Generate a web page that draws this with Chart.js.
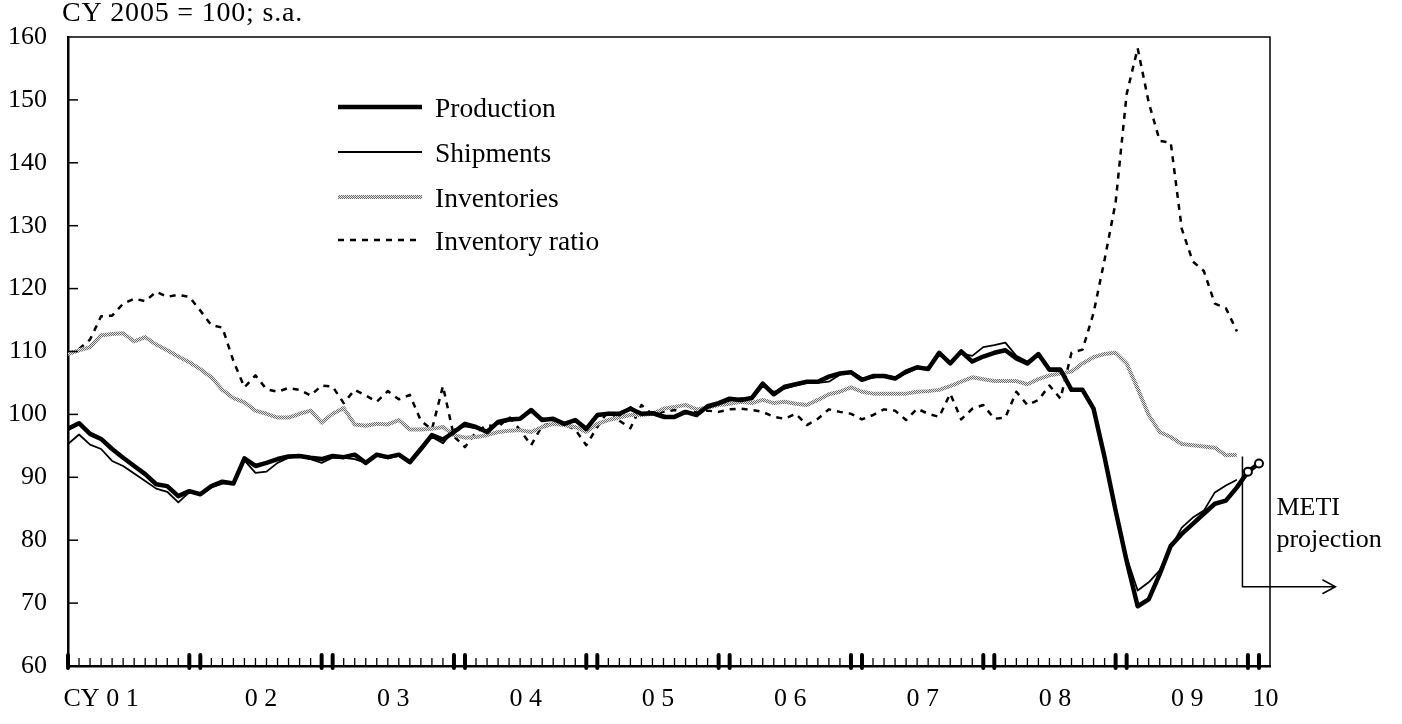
<!DOCTYPE html>
<html>
<head>
<meta charset="utf-8">
<script src="https://cdn.jsdelivr.net/npm/chart.js@4.4.1/dist/chart.umd.min.js"></script>
<style>
  html, body { margin: 0; padding: 0; background: #fff; }
  #wrap { position: relative; width: 1402px; height: 724px; }
</style>
</head>
<body>
<div id="wrap"><canvas id="chart"></canvas></div>
<script>
// monthly, Jan 2001 onward (CY 2005 = 100, s.a.)
const yearLabels = ['CY 0 1', '0 2', '0 3', '0 4', '0 5', '0 6', '0 7', '0 8', '0 9', '10'];

// last two production points (Dec 09, Jan 10) are METI projections
const projectionStart = 107;

const production = [
  97.7, 98.6, 96.9, 96.1, 94.5, 93.1, 91.8, 90.5, 88.9, 88.6, 87.0, 87.8,
  87.3, 88.6, 89.3, 89.0, 93.0, 91.8, 92.3, 92.9, 93.3, 93.4, 93.1, 92.9,
  93.4, 93.2, 93.6, 92.3, 93.6, 93.2, 93.6, 92.4, 94.5, 96.7, 96.0, 97.2,
  98.5, 98.0, 97.2, 98.8, 99.2, 99.3, 100.7, 99.1, 99.3, 98.5, 99.1, 97.7,
  99.9, 100.1, 100.1, 100.9, 100.1, 100.2, 99.6, 99.6, 100.4, 99.9, 101.3, 101.8,
  102.5, 102.3, 102.6, 104.9, 103.2, 104.4, 104.8, 105.2, 105.2, 106.0, 106.5, 106.7,
  105.5, 106.1, 106.1, 105.7, 106.8, 107.5, 107.2, 109.8, 108.1, 110.0, 108.4, 109.2,
  109.8, 110.2, 108.9, 108.1, 109.6, 107.1, 107.1, 103.9, 103.9, 100.9, 93.2, 84.7,
  76.7, 69.5, 70.6, 74.6, 79.1, 81.0, 82.6, 84.2, 85.8, 86.3, 88.4, 90.9,
  92.2
];

const shipments = [
  95.3, 96.8, 95.2, 94.5, 92.6, 91.8, 90.6, 89.4, 88.2, 87.7, 86.0, 87.6,
  87.2, 88.4, 89.0, 89.1, 92.7, 90.7, 90.9, 92.3, 93.1, 93.3, 92.9, 92.3,
  93.1, 93.1, 92.9, 92.3, 93.4, 93.0, 93.4, 92.6, 94.8, 96.4, 95.4, 97.6,
  98.1, 97.8, 97.5, 98.5, 99.0, 99.5, 100.4, 99.4, 99.0, 98.7, 98.9, 97.9,
  99.6, 100.3, 99.8, 101.2, 100.0, 100.4, 99.9, 99.4, 100.5, 100.1, 101.0, 101.6,
  102.2, 102.6, 102.4, 104.5, 103.6, 104.1, 104.6, 105.0, 105.0, 105.2, 106.3, 106.9,
  105.8, 105.8, 106.3, 105.9, 106.5, 107.3, 107.5, 109.4, 108.4, 109.7, 109.3, 110.7,
  111.0, 111.4, 109.3, 108.4, 109.6, 107.3, 107.3, 104.1, 103.9, 100.9, 93.4, 85.0,
  77.3, 72.0, 73.3, 75.2, 78.9, 82.0, 83.6, 84.7, 87.6, 88.7, 89.6
];

const inventories = [
  109.6, 110.2, 110.7, 112.6, 112.8, 112.9, 111.6, 112.3, 111.1, 110.2, 109.2, 108.3,
  107.2, 105.9, 103.9, 102.6, 101.9, 100.6, 100.1, 99.5, 99.5, 100.1, 100.6, 98.7,
  100.1, 101.0, 98.4, 98.2, 98.5, 98.4, 99.1, 97.6, 97.6, 97.7, 98.0, 96.7,
  96.3, 96.4, 96.7, 97.2, 97.4, 97.5, 97.2, 98.0, 98.5, 98.3, 98.0, 97.2,
  98.5, 99.1, 99.5, 99.9, 99.9, 100.1, 100.9, 101.2, 101.5, 100.8, 101.1, 101.5,
  101.7, 102.0, 101.8, 102.3, 101.8, 102.0, 101.7, 101.5, 102.3, 103.2, 103.6, 104.3,
  103.6, 103.3, 103.3, 103.3, 103.3, 103.6, 103.7, 103.9, 104.5, 105.2, 105.9, 105.6,
  105.3, 105.3, 105.3, 104.8, 105.6, 106.2, 106.5, 106.8, 108.1, 109.1, 109.6, 109.8,
  108.1, 104.1, 99.9, 97.2, 96.4, 95.3, 95.1, 94.9, 94.7, 93.5, 93.6
];

const inventoryRatio = [
  109.7, 110.4, 111.9, 115.6, 115.7, 117.6, 118.4, 118.0, 119.5, 118.7, 119.0, 118.7,
  116.5, 114.2, 113.8, 108.5, 104.3, 106.2, 104.0, 103.6, 104.2, 103.9, 103.0, 104.6,
  104.4, 101.8, 103.9, 103.0, 102.0, 103.7, 102.4, 103.1, 99.0, 97.6, 104.5, 96.5,
  94.8, 97.2, 98.3, 98.0, 99.6, 97.5, 95.1, 98.2, 98.6, 98.4, 97.6, 95.1,
  98.0, 100.6, 99.0, 97.8, 101.5, 100.0, 100.4, 100.7, 100.3, 100.4, 100.6, 100.4,
  100.8, 100.9, 100.7, 100.4, 99.6, 99.3, 100.1, 98.3, 99.3, 100.8, 100.4, 100.1,
  99.2, 99.9, 100.8, 100.6, 99.1, 100.9, 100.1, 99.6, 103.3, 99.2, 100.9, 101.5,
  99.3, 99.5, 103.6, 101.5, 102.3, 104.6, 102.5, 109.8, 110.3, 116.1, 124.6, 133.7,
  150.9, 158.2, 149.6, 143.5, 143.2, 129.5, 124.3, 122.8, 117.6, 116.9, 113.2
];

const FONT = "'Liberation Serif', 'Times New Roman', serif";

// halftone-like grey for the inventories line
function halftone() {
  const c = document.createElement('canvas');
  c.width = 2; c.height = 2;
  const g = c.getContext('2d');
  g.fillStyle = '#e6e6e6'; g.fillRect(0, 0, 2, 2);
  g.fillStyle = '#6a6a6a'; g.fillRect(0, 0, 1, 1); g.fillRect(1, 1, 1, 1);
  return g.createPattern(c, 'repeat');
}

const toXY = arr => arr.map((v, i) => ({ x: i, y: v }));

const decor = {
  id: 'decor',
  afterDraw(chart) {
    const { ctx, chartArea: a, scales: { x, y } } = chart;
    ctx.save();
    ctx.strokeStyle = '#000';
    ctx.fillStyle = '#000';

    // frame top / right
    ctx.lineWidth = 1.5;
    ctx.beginPath();
    ctx.moveTo(a.left, a.top);
    ctx.lineTo(a.right, a.top);
    ctx.lineTo(a.right, a.bottom);
    ctx.stroke();

    // inward y ticks
    for (let v = 70; v < 160; v += 10) {
      const py = y.getPixelForValue(v);
      ctx.beginPath();
      ctx.moveTo(a.left, py);
      ctx.lineTo(a.left + 10, py);
      ctx.stroke();
    }

    // monthly ticks, heavy at Dec / Jan
    for (let m = 0; m <= 108; m++) {
      const px = x.getPixelForValue(m);
      const heavy = m === 0 || (m > 0 && (m % 12 === 0 || m % 12 === 11));
      ctx.beginPath();
      if (heavy) {
        ctx.lineWidth = 4;
        ctx.lineCap = 'round';
        ctx.moveTo(px, a.bottom + 2);
        ctx.lineTo(px, a.bottom - 11);
      } else {
        ctx.lineWidth = 1.3;
        ctx.lineCap = 'butt';
        ctx.moveTo(px, a.bottom);
        ctx.lineTo(px, a.bottom - 8);
      }
      ctx.stroke();
    }
    ctx.lineCap = 'butt';

    // unit note
    ctx.font = '28px ' + FONT;
    ctx.textAlign = 'left';
    ctx.textBaseline = 'alphabetic';
    ctx.letterSpacing = '0.8px';
    ctx.fillText('CY 2005 = 100; s.a.', 62, 21);
    ctx.letterSpacing = '0px';

    // legend
    const rows = [107, 152, 197, 240];
    chart.data.datasets.forEach((ds, i) => {
      const ly = rows[i];
      ctx.save();
      ctx.strokeStyle = ds.borderColor;
      ctx.lineWidth = ds.borderWidth;
      ctx.setLineDash(ds.borderDash || []);
      ctx.beginPath();
      ctx.moveTo(338, ly);
      ctx.lineTo(422, ly);
      ctx.stroke();
      ctx.restore();
      ctx.font = '27.5px ' + FONT;
      ctx.fillText(ds.label, 435, ly + 10);
    });

    // METI projection marker
    const vx = x.getPixelForValue(projectionStart - 0.5);
    const vTop = y.getPixelForValue(93.3);
    const vBot = y.getPixelForValue(72.6);
    const ax = vx + 93;
    ctx.lineWidth = 1.5;
    ctx.beginPath();
    ctx.moveTo(vx, vTop);
    ctx.lineTo(vx, vBot);
    ctx.lineTo(ax, vBot);
    ctx.moveTo(ax - 13, vBot - 7);
    ctx.lineTo(ax, vBot);
    ctx.lineTo(ax - 13, vBot + 7);
    ctx.stroke();
    ctx.font = '26px ' + FONT;
    ctx.fillText('METI', vx + 34, vBot - 72);
    ctx.fillText('projection', vx + 34, vBot - 40);

    ctx.restore();
  }
};

new Chart(document.getElementById('chart'), {
  type: 'line',
  data: {
    datasets: [
      {
        label: 'Production',
        data: toXY(production),
        borderColor: '#000',
        borderWidth: 4.5,
        pointRadius: production.map((_, i) => i >= projectionStart ? 4 : 0),
        pointBackgroundColor: '#fff',
        pointBorderColor: '#000',
        pointBorderWidth: 2
      },
      {
        label: 'Shipments',
        data: toXY(shipments),
        borderColor: '#000',
        borderWidth: 1.8,
        pointRadius: 0
      },
      {
        label: 'Inventories',
        data: toXY(inventories),
        borderColor: halftone(),
        borderWidth: 4,
        pointRadius: 0
      },
      {
        label: 'Inventory ratio',
        data: toXY(inventoryRatio),
        borderColor: '#000',
        borderWidth: 2.5,
        borderDash: [6, 6],
        pointRadius: 0
      }
    ]
  },
  options: {
    responsive: true,
    maintainAspectRatio: false,
    animation: false,
    layout: { padding: { top: 37, right: 132, left: 0, bottom: 0 } },
    elements: { line: { tension: 0, borderJoinStyle: 'round' } },
    plugins: { legend: { display: false }, tooltip: { enabled: false } },
    scales: {
      x: {
        type: 'linear',
        min: 0,
        max: 109,
        grid: { display: false, drawTicks: false },
        border: { color: '#000', width: 2.5 },
        afterBuildTicks: s => {
          s.ticks = yearLabels.map((_, i) => ({ value: Math.min(12 * i + 5.5, s.max - 0.4) }));
          s.ticks[0].value = 3;
        },
        ticks: {
          autoSkip: false,
          maxRotation: 0,
          padding: 18,
          color: '#000',
          font: { family: FONT, size: 26 },
          callback: (v, i) => yearLabels[i]
        },
        afterFit: s => { s.height = 58; }
      },
      y: {
        min: 60,
        max: 160,
        grid: { display: false, drawTicks: false },
        border: { color: '#000', width: 2.5 },
        ticks: {
          stepSize: 10,
          padding: 21,
          color: '#000',
          font: { family: FONT, size: 26 }
        },
        afterFit: s => { s.width = 68; }
      }
    }
  },
  plugins: [decor]
});
</script>
</body>
</html>
